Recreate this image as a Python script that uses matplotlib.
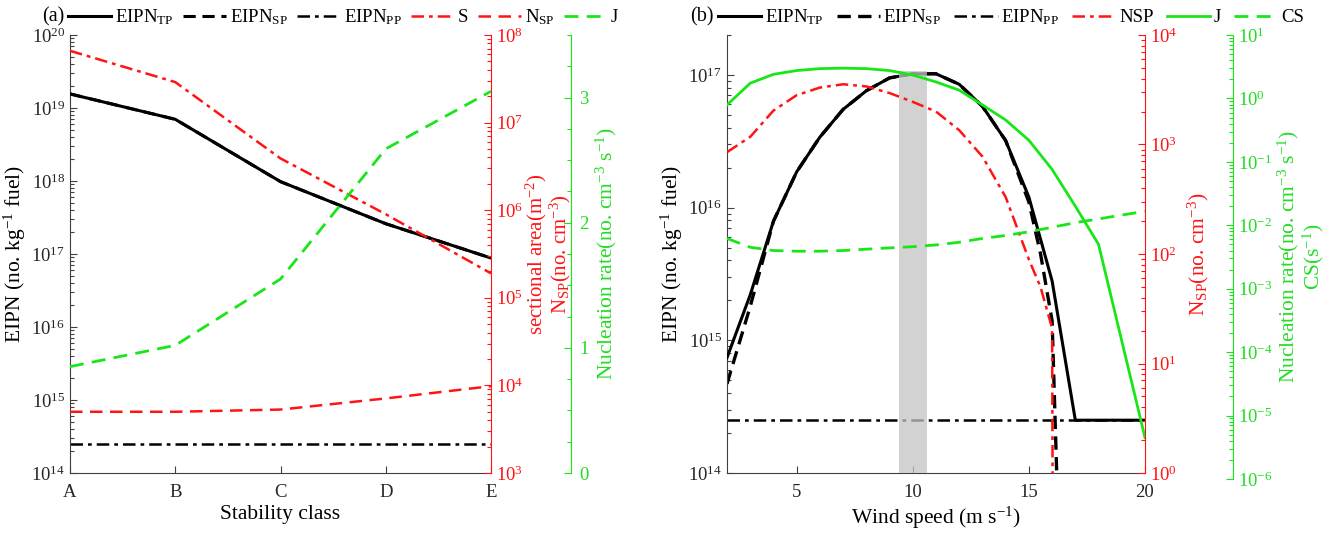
import numpy as np
import matplotlib
matplotlib.use('Agg')
import matplotlib.pyplot as plt
from matplotlib.ticker import LogLocator, NullFormatter, MultipleLocator, FixedLocator

plt.rcParams['font.family'] = ['Liberation Serif', 'DejaVu Serif']
plt.rcParams['mathtext.fontset'] = 'custom'
plt.rcParams['mathtext.rm'] = 'Liberation Serif'
plt.rcParams['mathtext.it'] = 'Liberation Serif:italic'
plt.rcParams['mathtext.bf'] = 'Liberation Serif:bold'

# ---------------- data: panel (a) ----------------
stability = ['A', 'B', 'C', 'D', 'E']
a_eipn_tp = [1.56e19, 7.0e18, 9.8e17, 2.6e17, 8.8e16]
a_eipn_sp = [1.56e19, 7.0e18, 9.8e17, 2.6e17, 8.8e16]
a_eipn_pp = [2.5e14, 2.5e14, 2.5e14, 2.5e14, 2.5e14]
a_s = [6.6e7, 2.9e7, 3.9e6, 9.0e5, 1.9e5]
a_nsp = [5.0e3, 5.0e3, 5.3e3, 7.1e3, 9.8e3]
a_j = [0.85, 1.02, 1.55, 2.59, 3.05]

# ---------------- data: panel (b) ----------------
b_wind = [2, 3, 4, 5, 6, 7, 8, 9, 10, 11, 12, 13, 14, 15, 16, 17, 18, 19, 20]
b_eipn_tp = [7.4e14, 2.2e15, 7.9e15, 1.86e16, 3.4e16, 5.5e16, 7.6e16, 9.5e16, 1.02e17,
             1.02e17, 8.5e16, 5.8e16, 3.2e16, 1.2e16, 2.8e15, 2.5e14, 2.5e14, 2.5e14, 2.5e14]
b_wind_sp = [2, 3, 4, 5, 6, 7, 8, 9, 10, 11, 12, 13, 14, 15, 15.5, 16, 16.25]
b_eipn_sp = [4.7e14, 1.8e15, 7.9e15, 1.86e16, 3.4e16, 5.5e16, 7.6e16, 9.5e16, 1.02e17,
             1.02e17, 8.5e16, 5.8e16, 3.2e16, 1.1e16, 4.5e15, 1.4e15, 5e13]
b_wind_pp = [2, 20]
b_eipn_pp = [2.5e14, 2.5e14]
b_wind_nsp = [2, 3, 4, 5, 6, 7, 8, 9, 10, 11, 12, 13, 14, 15, 15.5, 16, 16.05]
b_nsp = [851, 1175, 2040, 2820, 3310, 3550, 3390, 2950, 2450, 2000, 1350, 776, 331, 89,
         50, 21, 0.01]
b_j = [0.79, 1.74, 2.4, 2.75, 2.95, 3.0, 2.95, 2.75, 2.34, 1.82, 1.35, 0.79, 0.457,
       0.219, 0.076, 0.02, 5.0e-3, 1.5e-4, 4.5e-6]
b_cs = [6.2e-3, 4.5e-3, 4.0e-3, 3.9e-3, 3.9e-3, 4.0e-3, 4.2e-3, 4.4e-3, 4.6e-3, 4.9e-3,
        5.4e-3, 6.2e-3, 6.9e-3, 7.9e-3, 9.3e-3, 1.1e-2, 1.26e-2, 1.45e-2, 1.66e-2]
b_band = [9.4, 10.6]
b_band_top = 1.07e17

# ---------------- styling ----------------
RED = '#ff1414'
GREEN = '#19e619'
GREEN_T = '#22dd22'
AX = '#404040'
TICK_FS = 13.5
LAB_FS = 15.5
LEG_FS = 13.5

W, H = 1329, 535
fig = plt.figure(figsize=(W / 100, H / 100), dpi=100)


def rect(x0, x1, ytop, ybot):
    return [x0 / W, (H - ybot) / H, (x1 - x0) / W, (ybot - ytop) / H]


def style_main(ax):
    for s in ['top', 'right']:
        ax.spines[s].set_visible(False)
    for s in ['left', 'bottom']:
        ax.spines[s].set_color(AX)
        ax.spines[s].set_linewidth(0.8)
    ax.tick_params(which='both', direction='in', colors=AX, labelcolor='#262626',
                   labelsize=TICK_FS, width=0.8)
    ax.tick_params(which='major', length=5)
    ax.tick_params(which='minor', length=3)
    ax.tick_params(axis='x', pad=8)
    ax.patch.set_alpha(0)


def style_side(ax, color, lcolor, pos=None):
    for s in ['top', 'left', 'bottom']:
        ax.spines[s].set_visible(False)
    ax.spines['right'].set_color(color)
    ax.spines['right'].set_linewidth(0.8)
    if pos is not None:
        ax.spines['right'].set_position(('axes', pos))
    ax.tick_params(axis='y', which='both', direction='in', colors=color,
                   labelcolor=lcolor, labelsize=TICK_FS, width=0.8)
    ax.tick_params(axis='y', which='major', length=5)
    ax.tick_params(axis='y', which='minor', length=3)
    ax.patch.set_alpha(0)


def log_ticks(ax):
    ax.yaxis.set_major_locator(LogLocator(base=10, numticks=20))
    ax.yaxis.set_minor_locator(LogLocator(base=10, subs=np.arange(2, 10), numticks=20))
    ax.yaxis.set_minor_formatter(NullFormatter())


# ================= panel (a) =================
axA = fig.add_axes(rect(70, 491, 35, 473))
xa = np.arange(len(stability))
l_tp, = axA.plot(xa, a_eipn_tp, color='black', lw=2.2, zorder=3)
l_sp, = axA.plot(xa, a_eipn_sp, color='black', lw=2.2, ls=(0, (4, 2.2)), zorder=2)
l_pp, = axA.plot(xa, a_eipn_pp, color='black', lw=1.8, ls=(0, (5, 2, 1.5, 2)))
axA.set_yscale('log')
axA.set_ylim(1e14, 1e20)
axA.set_xlim(0, 4)
axA.set_xticks(xa)
axA.set_xticklabels(stability)
log_ticks(axA)
style_main(axA)
axA.set_xlabel('Stability class', fontsize=LAB_FS, labelpad=3)
axA.set_ylabel('EIPN (no. kg$^{-1}$ fuel)', fontsize=LAB_FS, labelpad=2)

axA2 = axA.twinx()
l_s, = axA2.plot(xa, a_s, color=RED, lw=1.8, ls=(0, (5, 2, 1.5, 2)))
l_n, = axA2.plot(xa, a_nsp, color=RED, lw=1.8, ls=(0, (5, 3)))
axA2.set_yscale('log')
axA2.set_ylim(1e3, 1e8)
log_ticks(axA2)
style_side(axA2, RED, RED)
axA2.set_ylabel('sectional area(m$^{-2}$)\nN$_{\\rm SP}$(no. cm$^{-3}$)',
                fontsize=LAB_FS - 0.5, color=RED, labelpad=0.5, linespacing=0.95)

axA3 = axA.twinx()
l_j, = axA3.plot(xa, a_j, color=GREEN, lw=2.0, ls=(0, (5, 3)))
axA3.set_ylim(0, 3.5)
axA3.yaxis.set_major_locator(FixedLocator([0, 1, 2, 3]))
axA3.yaxis.set_minor_locator(MultipleLocator(0.25))
style_side(axA3, GREEN, GREEN_T, pos=1 + 80 / 421)
axA3.tick_params(axis='y', pad=6)
axA3.set_ylabel('Nucleation rate(no. cm$^{-3}$ s$^{-1}$)', fontsize=LAB_FS,
                color=GREEN_T, labelpad=4)

fig.legend([l_tp, l_sp, l_pp, l_s, l_n, l_j],
           ['EIPN$_{\\rm TP}$', 'EIPN$_{\\rm SP}$', 'EIPN$_{\\rm PP}$', 'S',
            'N$_{\\rm SP}$', 'J'],
           loc='center left', bbox_to_anchor=(68 / W, 1 - 17 / H), ncol=6,
           frameon=False, fontsize=LEG_FS, handlelength=2.3, handletextpad=0.2,
           columnspacing=0.5, borderaxespad=0, borderpad=0)
fig.text(42 / W, 1 - 17 / H, '(a)', fontsize=LEG_FS + 1, va='center', ha='left')

# ================= panel (b) =================
axB = fig.add_axes(rect(727, 1145, 35, 473))
axB.fill_between(b_band, [1e14, 1e14], [b_band_top, b_band_top],
                 color='#c4c4c4', alpha=0.75, lw=0, zorder=5)
m_tp, = axB.plot(b_wind, b_eipn_tp, color='black', lw=2.2, zorder=3)
m_sp, = axB.plot(b_wind_sp, b_eipn_sp, color='black', lw=2.4, ls=(0, (4, 2.2)), zorder=2)
m_pp, = axB.plot(b_wind_pp, b_eipn_pp, color='black', lw=1.8, ls=(0, (5, 2, 1.5, 2)))
axB.set_yscale('log')
axB.set_ylim(1e14, 2e17)
axB.set_xlim(2, 20)
axB.set_xticks([5, 10, 15, 20])
log_ticks(axB)
style_main(axB)
axB.set_xlabel('Wind speed (m s$^{-1}$)', fontsize=LAB_FS, labelpad=3)
axB.set_ylabel('EIPN (no. kg$^{-1}$ fuel)', fontsize=LAB_FS, labelpad=2)

axB2 = axB.twinx()
m_n, = axB2.plot(b_wind_nsp, b_nsp, color=RED, lw=1.8, ls=(0, (5, 2, 1.5, 2)))
axB2.set_yscale('log')
axB2.set_ylim(1e0, 1e4)
log_ticks(axB2)
style_side(axB2, RED, RED)
axB2.set_ylabel('N$_{\\rm SP}$(no. cm$^{-3}$)', fontsize=LAB_FS, color=RED, labelpad=6)

axB3 = fig.add_axes(rect(727, 1145, 35, 479), sharex=axB)
m_j, = axB3.plot(b_wind, b_j, color=GREEN, lw=2.0)
m_cs, = axB3.plot(b_wind, b_cs, color=GREEN, lw=2.0, ls=(0, (5, 3)))
axB3.set_yscale('log')
axB3.set_ylim(1e-6, 1e1)
log_ticks(axB3)
axB3.yaxis.tick_right()
axB3.yaxis.set_label_position('right')
axB3.xaxis.set_visible(False)
style_side(axB3, GREEN, GREEN_T, pos=1 + 88 / 418)
axB3.set_ylabel('Nucleation rate(no. cm$^{-3}$ s$^{-1}$)\nCS(s$^{-1}$)', fontsize=LAB_FS,
                color=GREEN_T, labelpad=2, linespacing=1.0)

fig.legend([m_tp, m_sp, m_pp, m_n, m_j, m_cs],
           ['EIPN$_{\\rm TP}$', 'EIPN$_{\\rm SP}$', 'EIPN$_{\\rm PP}$', 'NSP', 'J', 'CS'],
           loc='center left', bbox_to_anchor=(718 / W, 1 - 17 / H), ncol=6,
           frameon=False, fontsize=LEG_FS, handlelength=2.3, handletextpad=0.2,
           columnspacing=0.7, borderaxespad=0, borderpad=0)
fig.text(690 / W, 1 - 17 / H, '(b)', fontsize=LEG_FS + 1, va='center', ha='left')

fig.savefig('out.png', dpi=100)
